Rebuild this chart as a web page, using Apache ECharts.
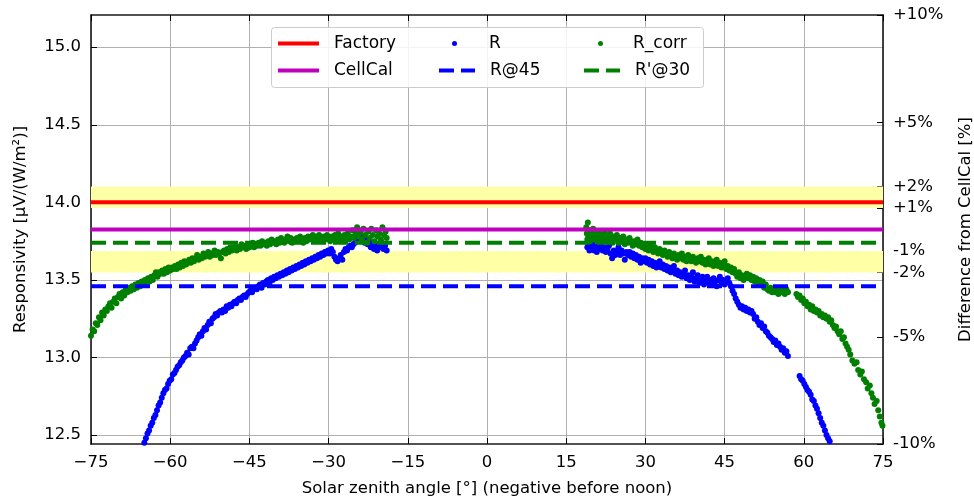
<!DOCTYPE html>
<html>
<head>
<meta charset="utf-8">
<script src="https://cdn.jsdelivr.net/npm/echarts@6/dist/echarts.min.js"></script>
<style>html,body{margin:0;padding:0;background:#fff}#c{width:974px;height:500px}</style>
</head>
<body>
<div id="c"></div>
<script>
// ---------- data ----------
const xTickMin = -75, xTickMax = 75, xTickStep = 15;
const leftTicks = [12.5, 13.0, 13.5, 14.0, 14.5, 15.0];
const pctTicks = [10, 5, 2, 1, -1, -2, -5, -10];
const pctLabels = ['+10%', '+5%', '+2%', '+1%', '-1%', '-2%', '-5%', '-10%'];
const cellCal = 13.825;
const factory = 14.0;
const r45 = 13.46;
const rp30 = 13.74;
const bandPct = [[1, 2], [-2, -1]];

// R (uncorrected), morning and afternoon
const rMorning = [[-64.9,12.45],[-64.6,12.48],[-64.3,12.51],[-64.0,12.53],[-63.7,12.56],[-63.4,12.58],[-63.1,12.61],[-62.8,12.63],[-62.5,12.66],[-62.2,12.69],[-61.9,12.71],[-61.6,12.74],[-61.3,12.77],[-61.0,12.79],[-60.7,12.80],[-60.4,12.83],[-60.1,12.85],[-59.8,12.86],[-59.5,12.89],[-59.2,12.90],[-58.9,12.92],[-58.6,12.94],[-58.3,12.95],[-58.0,12.97],[-57.7,12.98],[-57.4,13.00],[-57.1,13.01],[-56.8,13.03],[-56.5,13.02],[-56.2,13.06],[-55.9,13.07],[-55.6,13.06],[-55.3,13.09],[-55.0,13.11],[-54.7,13.13],[-54.4,13.15],[-54.1,13.14],[-53.8,13.17],[-53.5,13.19],[-53.2,13.18],[-52.9,13.21],[-52.6,13.23],[-52.3,13.22],[-52.0,13.25],[-51.7,13.26],[-51.4,13.28],[-51.1,13.27],[-50.8,13.29],[-50.5,13.30],[-50.2,13.29],[-49.9,13.31],[-49.6,13.30],[-49.3,13.33],[-49.0,13.32],[-48.7,13.34],[-48.4,13.33],[-48.1,13.35],[-47.8,13.36],[-47.5,13.35],[-47.2,13.37],[-46.9,13.38],[-46.6,13.37],[-46.3,13.39],[-46.0,13.40],[-45.7,13.39],[-45.4,13.41],[-45.1,13.42],[-44.8,13.43],[-44.5,13.42],[-44.2,13.44],[-43.9,13.45],[-43.6,13.44],[-43.3,13.46],[-43.0,13.47],[-42.7,13.45],[-42.4,13.48],[-42.1,13.47],[-41.8,13.49],[-41.5,13.50],[-41.2,13.48],[-40.9,13.51],[-40.6,13.50],[-40.3,13.52],[-40.0,13.51],[-39.7,13.53],[-39.4,13.52],[-39.1,13.54],[-38.8,13.53],[-38.5,13.55],[-38.2,13.54],[-37.9,13.56],[-37.6,13.55],[-37.3,13.57],[-37.0,13.56],[-36.7,13.58],[-36.4,13.57],[-36.1,13.59],[-35.8,13.58],[-35.5,13.60],[-35.2,13.59],[-34.9,13.61],[-34.6,13.60],[-34.3,13.62],[-34.0,13.61],[-33.7,13.63],[-33.4,13.62],[-33.1,13.64],[-32.8,13.63],[-32.5,13.65],[-32.2,13.64],[-31.9,13.66],[-31.6,13.65],[-31.3,13.67],[-31.0,13.66],[-30.7,13.68],[-30.4,13.67],[-30.1,13.69],[-29.8,13.67],[-29.5,13.70],[-29.2,13.68],[-28.9,13.65],[-28.6,13.63],[-28.3,13.62],[-28.0,13.64],[-27.7,13.66],[-27.4,13.63],[-27.1,13.68],[-26.8,13.70],[-26.5,13.69],[-26.2,13.71],[-25.9,13.72],[-25.6,13.71],[-25.3,13.73],[-25.0,13.74],[-24.7,13.76],[-24.4,13.77],[-24.1,13.75],[-23.8,13.78],[-23.5,13.76],[-23.2,13.74],[-22.9,13.77],[-22.6,13.73],[-22.3,13.75],[-22.0,13.71],[-21.7,13.74],[-21.4,13.70],[-21.1,13.72],[-20.8,13.69],[-20.5,13.73],[-20.2,13.71],[-19.9,13.74],[-19.6,13.70],[-19.3,13.72],[-19.0,13.69]];
const rAfternoon = [[19.0,13.71],[19.2,13.74],[19.4,13.69],[19.6,13.72],[19.8,13.70],[20.0,13.73],[20.3,13.69],[20.5,13.71],[20.8,13.68],[21.0,13.72],[21.3,13.70],[21.6,13.73],[21.9,13.69],[22.2,13.71],[22.5,13.68],[22.8,13.70],[23.1,13.72],[23.4,13.67],[23.7,13.64],[24.0,13.69],[24.3,13.66],[24.6,13.68],[24.9,13.71],[25.2,13.66],[25.5,13.69],[25.8,13.67],[26.1,13.63],[26.4,13.68],[26.7,13.66],[27.0,13.68],[27.3,13.65],[27.6,13.67],[27.9,13.64],[28.2,13.66],[28.5,13.63],[28.8,13.65],[29.1,13.61],[29.4,13.64],[29.7,13.62],[30.0,13.64],[30.3,13.61],[30.6,13.63],[30.9,13.60],[31.2,13.62],[31.5,13.59],[31.8,13.61],[32.1,13.58],[32.4,13.60],[32.7,13.62],[33.0,13.58],[33.3,13.60],[33.6,13.57],[33.9,13.59],[34.2,13.56],[34.5,13.58],[34.8,13.55],[35.1,13.57],[35.4,13.59],[35.7,13.54],[36.0,13.56],[36.3,13.53],[36.6,13.55],[36.9,13.52],[37.2,13.54],[37.5,13.56],[37.8,13.51],[38.1,13.53],[38.4,13.50],[38.7,13.52],[39.0,13.55],[39.3,13.49],[39.6,13.51],[39.9,13.53],[40.2,13.48],[40.5,13.50],[40.8,13.52],[41.1,13.47],[41.4,13.50],[41.7,13.52],[42.0,13.48],[42.3,13.50],[42.6,13.47],[42.9,13.51],[43.2,13.49],[43.5,13.46],[43.8,13.50],[44.1,13.52],[44.4,13.48],[44.7,13.50],[45.0,13.47],[45.3,13.49],[45.6,13.51],[45.9,13.48],[46.2,13.46],[46.5,13.43],[46.8,13.41],[47.1,13.38],[47.4,13.36],[47.7,13.34],[48.0,13.32],[48.3,13.33],[48.6,13.31],[48.9,13.32],[49.2,13.30],[49.5,13.31],[49.8,13.29],[50.1,13.30],[50.4,13.28],[50.7,13.25],[51.0,13.26],[51.3,13.23],[51.6,13.21],[51.9,13.22],[52.2,13.19],[52.5,13.20],[52.8,13.17],[53.1,13.16],[53.4,13.14],[53.7,13.13],[54.0,13.12],[54.3,13.10],[54.6,13.11],[54.9,13.08],[55.2,13.09],[55.5,13.07],[55.8,13.05],[56.1,13.06],[56.4,13.03],[56.7,13.04],[57.0,13.01],[59.2,12.88],[59.5,12.86],[59.8,12.85],[60.1,12.83],[60.4,12.81],[60.7,12.79],[61.0,12.78],[61.3,12.76],[61.6,12.73],[61.9,12.72],[62.2,12.69],[62.5,12.67],[62.8,12.64],[63.1,12.61],[63.4,12.58],[63.7,12.56],[64.0,12.53],[64.3,12.50],[64.6,12.48],[64.9,12.46]];

// R_corr, morning and afternoon
const rCorrMorning = [[-75.0,13.14],[-74.7,13.18],[-74.4,13.17],[-74.1,13.22],[-73.8,13.21],[-73.5,13.26],[-73.2,13.24],[-72.9,13.29],[-72.6,13.27],[-72.3,13.31],[-72.0,13.30],[-71.7,13.33],[-71.4,13.35],[-71.1,13.32],[-70.8,13.36],[-70.5,13.38],[-70.2,13.35],[-69.9,13.39],[-69.6,13.41],[-69.3,13.38],[-69.0,13.42],[-68.7,13.40],[-68.4,13.44],[-68.1,13.42],[-67.8,13.45],[-67.5,13.43],[-67.2,13.46],[-66.9,13.44],[-66.6,13.47],[-66.3,13.45],[-66.0,13.48],[-65.7,13.46],[-65.4,13.49],[-65.1,13.47],[-64.8,13.50],[-64.5,13.48],[-64.2,13.51],[-63.9,13.49],[-63.6,13.52],[-63.3,13.50],[-63.0,13.53],[-62.7,13.55],[-62.4,13.52],[-62.1,13.55],[-61.8,13.54],[-61.5,13.56],[-61.2,13.54],[-60.9,13.57],[-60.6,13.55],[-60.3,13.58],[-60.0,13.56],[-59.7,13.58],[-59.4,13.57],[-59.1,13.59],[-58.8,13.57],[-58.5,13.60],[-58.2,13.58],[-57.9,13.61],[-57.6,13.59],[-57.3,13.62],[-57.0,13.60],[-56.7,13.61],[-56.4,13.63],[-56.1,13.61],[-55.8,13.64],[-55.5,13.62],[-55.2,13.64],[-54.9,13.66],[-54.6,13.63],[-54.3,13.65],[-54.0,13.64],[-53.7,13.67],[-53.4,13.65],[-53.1,13.66],[-52.8,13.68],[-52.5,13.65],[-52.2,13.67],[-51.9,13.66],[-51.6,13.69],[-51.3,13.66],[-51.0,13.68],[-50.7,13.67],[-50.4,13.64],[-50.1,13.68],[-49.8,13.69],[-49.5,13.67],[-49.2,13.70],[-48.9,13.68],[-48.6,13.71],[-48.3,13.69],[-48.0,13.70],[-47.7,13.72],[-47.4,13.69],[-47.1,13.71],[-46.8,13.70],[-46.5,13.73],[-46.2,13.71],[-45.9,13.72],[-45.6,13.70],[-45.3,13.73],[-45.0,13.71],[-44.7,13.72],[-44.4,13.74],[-44.1,13.71],[-43.8,13.73],[-43.5,13.72],[-43.2,13.74],[-42.9,13.72],[-42.6,13.75],[-42.3,13.73],[-42.0,13.74],[-41.7,13.72],[-41.4,13.75],[-41.1,13.73],[-40.8,13.76],[-40.5,13.74],[-40.2,13.75],[-39.9,13.73],[-39.6,13.76],[-39.3,13.74],[-39.0,13.77],[-38.7,13.75],[-38.4,13.74],[-38.1,13.76],[-37.8,13.78],[-37.5,13.75],[-37.2,13.77],[-36.9,13.74],[-36.6,13.76],[-36.3,13.75],[-36.0,13.77],[-35.7,13.75],[-35.4,13.78],[-35.1,13.76],[-34.8,13.74],[-34.5,13.77],[-34.2,13.75],[-33.9,13.78],[-33.6,13.76],[-33.3,13.77],[-33.0,13.79],[-32.7,13.76],[-32.4,13.78],[-32.1,13.76],[-31.8,13.79],[-31.5,13.77],[-31.2,13.75],[-30.9,13.78],[-30.6,13.76],[-30.3,13.79],[-30.0,13.77],[-29.7,13.75],[-29.4,13.78],[-29.1,13.76],[-28.8,13.79],[-28.5,13.77],[-28.2,13.80],[-27.9,13.76],[-27.6,13.78],[-27.3,13.75],[-27.0,13.79],[-26.7,13.77],[-26.4,13.80],[-26.1,13.76],[-25.8,13.78],[-25.5,13.82],[-25.2,13.77],[-24.9,13.80],[-24.6,13.84],[-24.3,13.78],[-24.0,13.81],[-23.7,13.76],[-23.4,13.83],[-23.1,13.79],[-22.8,13.74],[-22.5,13.81],[-22.2,13.77],[-21.9,13.83],[-21.6,13.79],[-21.3,13.75],[-21.0,13.82],[-20.7,13.78],[-20.4,13.80],[-20.1,13.76],[-19.8,13.84],[-19.5,13.79],[-19.2,13.81],[-19.0,13.77]];
const rCorrAfternoon = [[18.8,13.84],[18.9,13.80],[19.0,13.76],[19.1,13.87],[19.2,13.78],[19.4,13.82],[19.5,13.75],[19.7,13.80],[19.9,13.77],[20.1,13.83],[20.3,13.76],[20.5,13.79],[20.7,13.81],[20.9,13.75],[21.1,13.78],[21.3,13.80],[21.5,13.76],[21.8,13.79],[22.0,13.77],[22.3,13.81],[22.5,13.76],[22.8,13.78],[23.0,13.75],[23.3,13.80],[23.5,13.77],[23.8,13.74],[24.0,13.78],[24.3,13.76],[24.6,13.79],[24.9,13.74],[25.2,13.77],[25.5,13.75],[25.8,13.78],[26.1,13.73],[26.4,13.76],[26.7,13.74],[27.0,13.77],[27.3,13.75],[27.6,13.72],[27.9,13.75],[28.2,13.73],[28.5,13.76],[28.8,13.72],[29.1,13.74],[29.4,13.71],[29.7,13.73],[30.0,13.70],[30.3,13.72],[30.6,13.69],[30.9,13.73],[31.2,13.70],[31.5,13.68],[31.8,13.71],[32.1,13.69],[32.4,13.67],[32.7,13.70],[33.0,13.68],[33.3,13.66],[33.6,13.69],[33.9,13.67],[34.2,13.65],[34.5,13.68],[34.8,13.66],[35.1,13.64],[35.4,13.67],[35.7,13.65],[36.0,13.63],[36.3,13.66],[36.6,13.64],[36.9,13.67],[37.2,13.63],[37.5,13.65],[37.8,13.62],[38.1,13.66],[38.4,13.64],[38.7,13.62],[39.0,13.65],[39.3,13.63],[39.6,13.61],[39.9,13.64],[40.2,13.62],[40.5,13.65],[40.8,13.61],[41.1,13.63],[41.4,13.60],[41.7,13.62],[42.0,13.64],[42.3,13.60],[42.6,13.62],[42.9,13.59],[43.2,13.61],[43.5,13.63],[43.8,13.59],[44.1,13.61],[44.4,13.58],[44.7,13.60],[45.0,13.62],[45.3,13.57],[45.6,13.59],[45.9,13.56],[46.2,13.58],[46.5,13.55],[46.8,13.57],[47.1,13.54],[47.4,13.52],[47.7,13.55],[48.0,13.51],[48.3,13.53],[48.6,13.50],[48.9,13.52],[49.2,13.54],[49.5,13.51],[49.8,13.53],[50.1,13.50],[50.4,13.52],[50.7,13.49],[51.0,13.51],[51.3,13.48],[51.6,13.50],[51.9,13.47],[52.2,13.49],[52.5,13.45],[52.8,13.47],[53.1,13.44],[53.4,13.43],[53.7,13.45],[54.0,13.42],[54.3,13.44],[54.6,13.42],[54.9,13.43],[55.2,13.41],[55.5,13.44],[55.8,13.42],[56.1,13.43],[56.4,13.41],[56.7,13.44],[57.0,13.42],[58.6,13.41],[58.9,13.39],[59.2,13.40],[59.5,13.37],[59.8,13.38],[60.1,13.35],[60.4,13.36],[60.7,13.33],[61.0,13.34],[61.3,13.31],[61.6,13.33],[61.9,13.30],[62.2,13.31],[62.5,13.29],[62.8,13.30],[63.1,13.27],[63.4,13.28],[63.7,13.26],[64.0,13.27],[64.3,13.25],[64.6,13.26],[64.9,13.23],[65.2,13.24],[65.5,13.21],[65.8,13.19],[66.1,13.20],[66.4,13.17],[66.7,13.15],[67.0,13.17],[67.3,13.12],[67.6,13.13],[67.9,13.09],[68.2,13.07],[68.5,13.05],[68.8,13.02],[69.2,12.98],[69.6,12.96],[70.0,12.97],[70.3,12.92],[70.7,12.89],[71.0,12.91],[71.4,12.86],[71.8,12.84],[72.1,12.80],[72.5,12.82],[72.8,12.77],[73.1,12.74],[73.4,12.70],[73.8,12.72],[74.1,12.66],[74.4,12.62],[74.7,12.58],[74.9,12.56]];

// ---------- chart ----------
const yMin = cellCal * 0.9, yMax = cellCal * 1.1;
const rightTickValues = pctTicks.map(p => cellCal * (1 + p / 100));
const FONT = 'DejaVu Sans';
const FS = 16.5;
const hLine = v => [[xTickMin, v], [xTickMax, v]];
const SPINE = {color: '#1a1a1a', width: 1.6};

const chart = echarts.init(document.getElementById('c'), null, {renderer: 'canvas'});

function lineLegend(name, left, top, w, dash) {
  return {
    data: [{name: name, itemStyle: {color: 'rgba(0,0,0,0)', borderWidth: 0, opacity: 0},
            lineStyle: {width: 4, type: dash ? [15, 7] : 'solid'}}],
    left: left, top: top, orient: 'horizontal',
    itemWidth: w, itemHeight: 14, selectedMode: false, padding: 0, z: 120,
    textStyle: {fontFamily: FONT, fontSize: 17, color: '#000', padding: [0, 0, 0, 10]}
  };
}
function dotLegend(name, left, top, padLeft) {
  return {
    data: [{name: name, icon: 'circle'}],
    left: left, top: top, orient: 'horizontal',
    itemWidth: 5, itemHeight: 5, selectedMode: false, padding: 0, z: 120,
    textStyle: {fontFamily: FONT, fontSize: 17, color: '#000', padding: [0, 0, 0, padLeft]}
  };
}

const option = {
  animation: false,
  backgroundColor: '#fff',
  grid: {left: 91, right: 91, top: 15, bottom: 56, containLabel: false, outerBoundsMode: 'none'},
  graphic: [{
    type: 'rect', z: 100, left: 271, top: 27,
    shape: {width: 432, height: 60, r: 3},
    style: {fill: 'rgba(255,255,255,0.85)', stroke: '#cccccc', lineWidth: 1}
  }],
  legend: [
    lineLegend('Factory', 276, 35, 41, false),
    lineLegend('CellCal', 276, 62, 41, false),
    dotLegend('R', 452, 35, 27),
    lineLegend('R@45', 437, 62, 36, true),
    dotLegend('R_corr', 598, 35, 25),
    lineLegend("R'@30", 582, 62, 36, true)
  ],
  xAxis: [{
    type: 'value', min: xTickMin, max: xTickMax, interval: xTickStep, position: 'bottom',
    name: 'Solar zenith angle [°] (negative before noon)', nameLocation: 'middle', nameGap: 36,
    nameTextStyle: {fontFamily: FONT, fontSize: FS, color: '#000'},
    axisLine: {show: true, onZero: false, lineStyle: SPINE},
    axisTick: {show: true, inside: true, length: 6, lineStyle: {color: '#000'}},
    axisLabel: {fontFamily: FONT, fontSize: FS, color: '#000', margin: 10,
      formatter: v => (v < 0 ? '\u2212' + Math.abs(v) : String(v))},
    splitLine: {show: true, lineStyle: {color: '#b0b0b0', width: 1}}
  }, {
    type: 'value', min: xTickMin, max: xTickMax, interval: xTickStep, position: 'top',
    axisLine: {show: true, onZero: false, lineStyle: SPINE},
    axisTick: {show: true, inside: true, length: 6, lineStyle: {color: '#000'}},
    axisLabel: {show: false}, splitLine: {show: false}
  }],
  yAxis: [{
    type: 'value', min: yMin, max: yMax, position: 'left',
    name: 'Responsivity [µV/(W/m²)]', nameLocation: 'middle', nameGap: 62,
    nameTextStyle: {fontFamily: FONT, fontSize: FS, color: '#000'},
    axisLine: {show: true, onZero: false, lineStyle: SPINE},
    axisTick: {show: true, inside: true, length: 6, customValues: leftTicks, lineStyle: {color: '#000'}},
    axisLabel: {fontFamily: FONT, fontSize: FS, color: '#000', margin: 10, customValues: leftTicks,
      formatter: v => v.toFixed(1)},
    splitLine: {show: true, lineStyle: {color: '#b0b0b0', width: 1}}
  }, {
    type: 'value', min: yMin, max: yMax, position: 'right',
    name: 'Difference from CellCal [%]', nameLocation: 'middle', nameGap: 74, nameRotate: 90,
    nameTextStyle: {fontFamily: FONT, fontSize: FS, color: '#000'},
    axisLine: {show: true, onZero: false, lineStyle: SPINE},
    axisTick: {show: true, inside: true, length: 6, customValues: rightTickValues, lineStyle: {color: '#000'}},
    axisLabel: {fontFamily: FONT, fontSize: FS, color: '#000', margin: 10, customValues: rightTickValues,
      formatter: v => {
        let best = 0, bd = Infinity;
        rightTickValues.forEach((t, i) => { const d = Math.abs(t - v); if (d < bd) { bd = d; best = i; } });
        return pctLabels[best];
      }},
    splitLine: {show: false}
  }],
  series: [
    {
      name: 'bands', type: 'line', data: [], z: -1, silent: true,
      markArea: {
        silent: true, itemStyle: {color: '#ffffa6', opacity: 1},
        data: bandPct.map(b => [{yAxis: cellCal * (1 + b[0] / 100)}, {yAxis: cellCal * (1 + b[1] / 100)}])
      }
    },
    {name: 'Factory', type: 'line', data: hLine(factory), symbol: 'none', color: '#ff0000',
     lineStyle: {color: '#ff0000', width: 4}},
    {name: 'CellCal', type: 'line', data: hLine(cellCal), symbol: 'none', color: '#bf00bf',
     lineStyle: {color: '#bf00bf', width: 4}},
    {name: 'R', type: 'scatter', data: rMorning.concat(rAfternoon), symbol: 'circle', symbolSize: 6,
     color: '#0000ff', itemStyle: {color: '#0000ff', opacity: 1}},
    {name: 'R@45', type: 'line', data: hLine(r45), symbol: 'none', color: '#0000ff',
     lineStyle: {color: '#0000ff', width: 4, type: [15, 7]}},
    {name: 'R_corr', type: 'scatter', data: rCorrMorning.concat(rCorrAfternoon), symbol: 'circle', symbolSize: 6,
     color: '#008000', itemStyle: {color: '#008000', opacity: 1}},
    {name: "R'@30", type: 'line', data: hLine(rp30), symbol: 'none', color: '#008000',
     lineStyle: {color: '#008000', width: 4, type: [15, 7]}}
  ]
};
chart.setOption(option);
</script>
</body>
</html>
